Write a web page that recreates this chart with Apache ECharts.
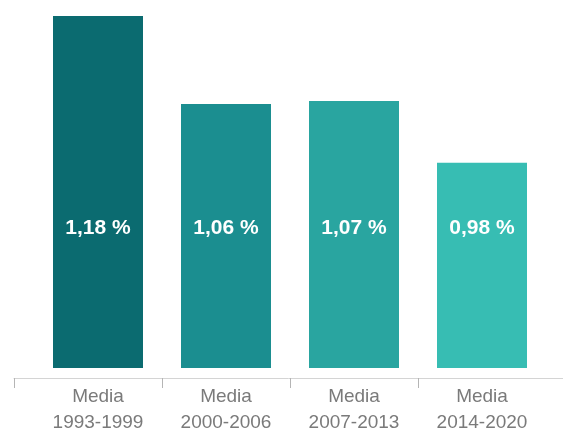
<!DOCTYPE html>
<html>
<head>
<meta charset="utf-8">
<script src="https://cdn.jsdelivr.net/npm/echarts@6/dist/echarts.min.js"></script>
<style>html,body{margin:0;padding:0;background:#fff}#c{width:563px;height:436px}</style>
</head>
<body>
<div id="c"></div>
<script>
const categories = ['Media\n1993-1999', 'Media\n2000-2006', 'Media\n2007-2013', 'Media\n2014-2020'];
const values = [1.18, 1.06, 1.064, 0.98];
const valueLabels = ['1,18 %', '1,06 %', '1,07 %', '0,98 %'];
const barColors = ['#0b6b70', '#1b8e90', '#29a5a0', '#37bdb3'];

const chart = echarts.init(document.getElementById('c'), null, {renderer: 'canvas'});
chart.setOption({
  animation: false,
  grid: [
    {left: 34, right: 17, top: 16, bottom: 64},
    {left: 14, right: 0, top: 360, bottom: 58}
  ],
  xAxis: [
    {
      type: 'category', gridIndex: 0, data: categories,
      axisLine: {show: false}, axisTick: {show: false},
      axisLabel: {margin: 16, color: '#7a7a7a', fontSize: 19, lineHeight: 26,
        fontFamily: 'Liberation Sans, Arial, sans-serif'}
    },
    {
      type: 'value', gridIndex: 1, min: -0.15625, max: 4.1328,
      axisLine: {show: true, lineStyle: {color: '#d4d4d4', width: 1}},
      axisTick: {show: true, length: 10, lineStyle: {color: '#b5b5b5', width: 1},
        customValues: [-0.15625, 1, 2, 3]},
      axisLabel: {show: false}, splitLine: {show: false}
    }
  ],
  yAxis: [
    {type: 'value', gridIndex: 0, min: 0.7, max: 1.18, show: false, splitLine: {show: false}},
    {type: 'value', gridIndex: 1, min: 0, max: 1, show: false, splitLine: {show: false}}
  ],
  series: [{
    type: 'bar', xAxisIndex: 0, yAxisIndex: 0,
    barWidth: 90,
    data: values.map((v, i) => ({value: v, itemStyle: {color: barColors[i]}})),
    label: {
      show: true, position: 'insideBottom', distance: 129,
      formatter: p => valueLabels[p.dataIndex],
      color: '#ffffff', fontSize: 21, fontWeight: 'bold',
      fontFamily: 'Liberation Sans, Arial, sans-serif'
    }
  }]
});
</script>
</body>
</html>
